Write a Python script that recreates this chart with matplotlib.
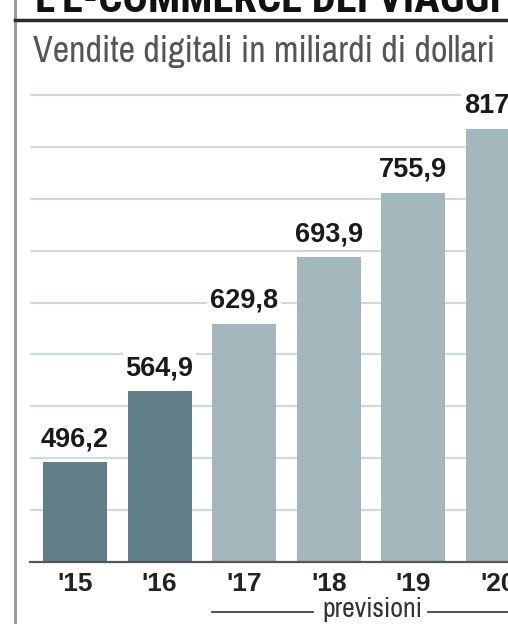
import matplotlib.pyplot as plt

years = ["'15", "'16", "'17", "'18", "'19", "'20"]
values = [496.2, 564.9, 629.8, 693.9, 755.9, 817.5]
forecast = [False, False, True, True, True, True]
labels = ["496,2", "564,9", "629,8", "693,9", "755,9", "817,5"]
grid_vals = [450, 500, 550, 600, 650, 700, 750, 800, 850]

W, H = 508, 624
fig = plt.figure(figsize=(W / 100, H / 100), dpi=100)
fig.patch.set_facecolor("white")
COND = ["Roboto Condensed", "DejaVu Sans"]
NARROW = ["Archivo Narrow", "Roboto Condensed", "DejaVu Sans"]

def fx(px):
    return px / W

def fy(py):
    return (H - py) / H

def fit_width(t, target_px):
    # scale font size so the text spans target_px horizontally
    r = fig.canvas.get_renderer()
    w = t.get_window_extent(r).width
    t.set_fontsize(t.get_fontsize() * target_px / w)

# axes placed in pixel terms: baseline at y=562, extends off the right edge
ax = fig.add_axes([fx(30), fy(562), (620 - 30) / W, (562 - 80) / H])
ax.set_ylim(400, 400 + 482 / 1.0378)
ax.set_xlim((30 - 75) / 84.6, (620 - 75) / 84.6)

x = list(range(len(years)))
colors = ["#a3b7bc" if f else "#627f88" for f in forecast]
ax.bar(x, [v - 400 for v in values], bottom=400, width=0.757, color=colors, zorder=2)

ax.set_yticks(grid_vals)
ax.yaxis.grid(True, color="#cfd9dc", linewidth=1.5, zorder=0)
ax.set_axisbelow(True)
ax.tick_params(axis="y", left=False, labelleft=False)
ax.tick_params(axis="x", bottom=False, pad=4)
ax.set_xticks(x)
ax.set_xticklabels(years, fontsize=19, fontweight="bold", family="Liberation Sans", color="#222")
for s in ["top", "right", "left"]:
    ax.spines[s].set_visible(False)
ax.spines["bottom"].set_color("#555")
ax.spines["bottom"].set_linewidth(1.6)

for xi, v, lab in zip(x, values, labels):
    ax.annotate(lab, (xi, v), xytext=(0, 7), textcoords="offset points",
                ha="center", va="bottom", fontsize=19.5, fontweight="bold",
                family="Liberation Sans", color="#1a1a1a", zorder=3,
                bbox=dict(boxstyle="square,pad=0.1", fc="white", ec="none"))

# "previsioni" bracket under the forecast years
tr = ax.get_xaxis_transform()
ax.plot([(212 - 75) / 84.6, (313 - 75) / 84.6], [-0.1037, -0.1037], transform=tr,
        color="#444", lw=1.3, clip_on=False)
ax.plot([(428 - 75) / 84.6, 6.4], [-0.1037, -0.1037], transform=tr,
        color="#444", lw=1.3, clip_on=False)
prev = ax.text((372 - 75) / 84.6, -0.1141, "previsioni", transform=tr, ha="center",
               va="baseline", fontsize=20, family=NARROW, color="#333")
fit_width(prev, 100)

# frame bits of the newspaper box
fig.add_artist(plt.Line2D([fx(15), fx(15)], [0, 1], color="#999", lw=2.2))
fig.add_artist(plt.Line2D([fx(15), 1], [fy(20), fy(20)], color="#2a2a2a", lw=2.5))

title = fig.text(fx(35), fy(12), "L'E-COMMERCE DEI VIAGGI", fontsize=30, fontweight="heavy",
                 family=COND, color="#111", va="baseline")
fit_width(title, 465)
sub = fig.text(fx(33), fy(62), "Vendite digitali in miliardi di dollari", fontsize=26,
               family=NARROW, color="#555", va="baseline")
fit_width(sub, 463)

fig.savefig("out.png", dpi=100)
